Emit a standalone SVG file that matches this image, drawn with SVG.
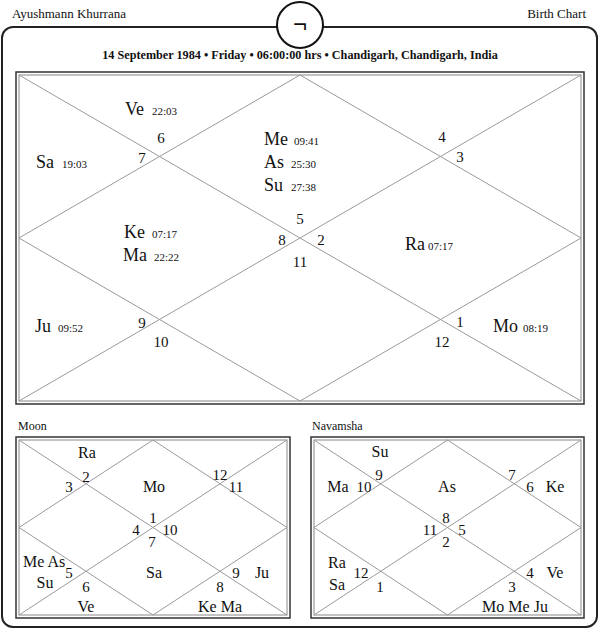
<svg xmlns="http://www.w3.org/2000/svg" width="600" height="630" viewBox="0 0 600 630">
<style>
text{font-family:"Liberation Serif","Times New Roman",serif;fill:#111}
.hd{font-size:13px}
.dt{font-size:12.2px;font-weight:bold;text-anchor:middle}
.p{font-size:18px}
.d{font-size:11px}
.n{font-size:15px;text-anchor:middle}
.sp{font-size:16px}
.sc{font-size:16px;text-anchor:middle}
.sn{font-size:15px;text-anchor:middle}
.lbl{font-size:12px}
.ln{stroke:#9a9a9a;stroke-width:1;fill:none}
.bo{stroke:#333;stroke-width:1.5;fill:none}
.bi{stroke:#888;stroke-width:1;fill:none}
</style>
<rect width="600" height="630" fill="#fff"/>
<g id="frame">
<rect x="2" y="27" width="595" height="600" rx="11" fill="none" stroke="#222" stroke-width="2"/>
<circle cx="300" cy="25" r="23" fill="#fff" stroke="#111" stroke-width="2"/>
<text x="300" y="33" style="font-size:25px;font-weight:bold;text-anchor:middle">¬</text>
</g>
<g id="header">
<text class="hd" x="12" y="18">Ayushmann Khurrana</text>
<text class="hd" x="586" y="18" text-anchor="end">Birth Chart</text>
<text class="dt" x="300" y="59">14 September 1984 • Friday • 06:00:00 hrs • Chandigarh, Chandigarh, India</text>
</g>
<g id="connectors">
<rect class="bo" x="16" y="72" width="568" height="332"/>
<rect class="bi" x="19" y="75" width="562" height="326"/>
<path class="ln" d="M19 75L581 401M581 75L19 401M300 75L581 238L300 401L19 238Z"/>
<rect class="bo" x="16" y="437" width="274" height="181"/>
<rect class="bi" x="19" y="440" width="268" height="175"/>
<path class="ln" d="M19 440L287 615M287 440L19 615M153 440L287 527.5L153 615L19 527.5Z"/>
<rect class="bo" x="311" y="437" width="273" height="181"/>
<rect class="bi" x="314" y="440" width="267" height="175"/>
<path class="ln" d="M314 440L581 615M581 440L314 615M447.5 440L581 527.5L447.5 615L314 527.5Z"/>
</g>
<g id="rasi">
<text class="p" x="125" y="115">Ve</text><text class="d" x="152" y="115">22:03</text>
<text class="p" x="36" y="168">Sa</text><text class="d" x="62" y="168">19:03</text>
<text class="p" x="264" y="145">Me</text><text class="d" x="294" y="145">09:41</text>
<text class="p" x="264" y="168">As</text><text class="d" x="291" y="168">25:30</text>
<text class="p" x="264" y="191">Su</text><text class="d" x="291" y="191">27:38</text>
<text class="p" x="124" y="238">Ke</text><text class="d" x="152" y="238">07:17</text>
<text class="p" x="123" y="261">Ma</text><text class="d" x="154" y="261">22:22</text>
<text class="p" x="405" y="250">Ra</text><text class="d" x="428" y="250">07:17</text>
<text class="p" x="35" y="332">Ju</text><text class="d" x="58" y="332">09:52</text>
<text class="p" x="493" y="332">Mo</text><text class="d" x="523" y="332">08:19</text>
<text class="n" x="161" y="143">6</text>
<text class="n" x="142" y="163">7</text>
<text class="n" x="442" y="142">4</text>
<text class="n" x="460" y="162">3</text>
<text class="n" x="300" y="224">5</text>
<text class="n" x="282" y="245">8</text>
<text class="n" x="321" y="245">2</text>
<text class="n" x="300" y="267">11</text>
<text class="n" x="142" y="328">9</text>
<text class="n" x="161" y="347">10</text>
<text class="n" x="460" y="327">1</text>
<text class="n" x="442" y="347">12</text>
</g>
<g id="moon">
<text class="lbl" x="18" y="430">Moon</text>
<text class="sc" x="87" y="458">Ra</text>
<text class="sn" x="86" y="482">2</text>
<text class="sn" x="69" y="492">3</text>
<text class="sc" x="154" y="492">Mo</text>
<text class="sn" x="220" y="480">12</text>
<text class="sn" x="236" y="492">11</text>
<text class="sn" x="153" y="523">1</text>
<text class="sn" x="136" y="535">4</text>
<text class="sn" x="170" y="535">10</text>
<text class="sn" x="152" y="547">7</text>
<text class="sp" x="23" y="567">Me As</text>
<text class="sn" x="69" y="578">5</text>
<text class="sc" x="45" y="588">Su</text>
<text class="sn" x="86" y="592">6</text>
<text class="sc" x="154" y="578">Sa</text>
<text class="sn" x="220" y="592">8</text>
<text class="sn" x="236" y="578">9</text>
<text class="sc" x="262" y="578">Ju</text>
<text class="sc" x="86" y="612">Ve</text>
<text class="sc" x="220" y="612">Ke Ma</text>
</g>
<g id="navamsha">
<text class="lbl" x="312" y="430">Navamsha</text>
<text class="sc" x="380" y="457">Su</text>
<text class="sn" x="379" y="480">9</text>
<text class="sc" x="338" y="492">Ma</text>
<text class="sn" x="364" y="492">10</text>
<text class="sc" x="447" y="492">As</text>
<text class="sn" x="512" y="480">7</text>
<text class="sn" x="530" y="492">6</text>
<text class="sc" x="555" y="492">Ke</text>
<text class="sn" x="446" y="523">8</text>
<text class="sn" x="430" y="535">11</text>
<text class="sn" x="462" y="535">5</text>
<text class="sn" x="446" y="547">2</text>
<text class="sc" x="337" y="568">Ra</text>
<text class="sn" x="361" y="578">12</text>
<text class="sc" x="337" y="590">Sa</text>
<text class="sn" x="380" y="592">1</text>
<text class="sn" x="530" y="578">4</text>
<text class="sc" x="555" y="578">Ve</text>
<text class="sn" x="512" y="592">3</text>
<text class="sc" x="515" y="612">Mo Me Ju</text>
</g>
</svg>
